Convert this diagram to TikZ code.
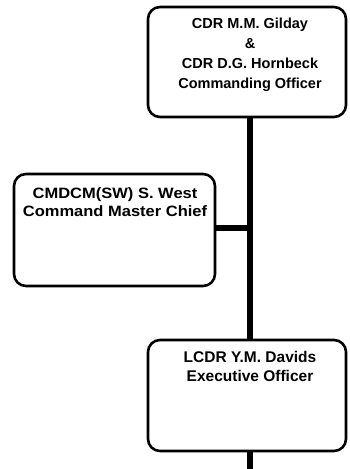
\documentclass[tikz,border=0pt]{standalone}
\usepackage{fontspec}
\setmainfont{Liberation Sans}
\newfontfamily\widefont[FakeStretch=1.1]{Liberation Sans}
\begin{document}
\begin{tikzpicture}[x=1pt,y=-1pt,
  orgbox/.style={draw=black,line width=2.6pt,rounded corners=12pt,fill=white,inner sep=0pt},
  orgtext/.style={anchor=north,inner sep=0pt,align=center,font=\bfseries},
  link/.style={line width=6pt,line cap=butt}]
\fill[white] (0,0) rectangle (349,469);
\useasboundingbox (0,0) rectangle (349,469);
% spine
\coordinate (spineTop) at (250,118);
\coordinate (spineBot) at (250,469);
\coordinate (spineMid) at (253,228);
\draw[link] (spineTop) -- (spineBot);
% boxes
\node[orgbox,minimum width=198pt,minimum height=110pt] (co) at (247,62) {};
\node[orgbox,minimum width=201pt,minimum height=112pt] (cmc) at (114.5,230) {};
\node[orgbox,minimum width=198pt,minimum height=111pt] (xo) at (247,395.5) {};
\draw[link] (cmc.east |- 0,228) coordinate (cmcE) -- (spineMid);
% texts
\node[orgtext,font=\fontsize{14.5}{20}\selectfont\bfseries] (coT) at (250,18) {CDR M.M. Gilday\\\&\\CDR D.G. Hornbeck\\Commanding Officer};
\node[orgtext,font=\widefont\fontsize{15}{18.5}\selectfont\bfseries] (cmcT) at (115,187) {CMDCM(SW) S. West\\Command Master Chief};
\node[orgtext,font=\fontsize{15.5}{19}\selectfont\bfseries] (xoT) at (250,351) {LCDR Y.M. Davids\\Executive Officer};
\end{tikzpicture}
\end{document}
